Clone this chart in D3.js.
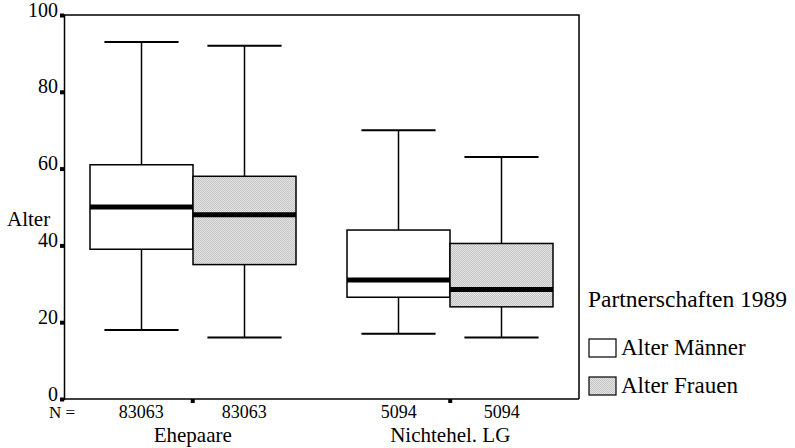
<!DOCTYPE html>
<html>
  <head>
    <meta charset="utf-8">
    <title>Partnerschaften 1989</title>
    <script src="https://d3js.org/d3.v7.min.js"></script>
    <style>
      body { margin: 0; background: #fff; }
      text { font-family: "Liberation Serif", "Times New Roman", serif; fill: #000; }
      .axis-y text { font-size: 20px; }
    </style>
  </head>
  <body>
    <svg width="795" height="448"></svg>
    <script>
      var groups = ["Ehepaare", "Nichtehel. LG"];
      var series = ["Alter Männer", "Alter Frauen"];
      var counts = [[83063, 83063], [5094, 5094]];
      // five-number summaries per group: [min, q1, median, q3, max]
      var maenner = [[18, 39, 50, 61, 93], [17, 26.5, 31, 44, 70]];
      var frauen = [[16, 35, 48, 58, 92], [16, 24, 28.5, 40.5, 63]];
      var yTicks = [0, 20, 40, 60, 80, 100];

      var margin = {top: 15, right: 216, bottom: 49, left: 64},
          width = 795 - margin.left - margin.right,
          height = 448 - margin.top - margin.bottom;

      var svg = d3.select("svg");

      // fine checker stipple for the grey boxes
      var pat = svg.append("defs").append("pattern")
          .attr("id", "stipple")
          .attr("width", 2).attr("height", 2)
          .attr("patternUnits", "userSpaceOnUse");
      pat.append("rect").attr("width", 2).attr("height", 2).attr("fill", "#e6e6e6");
      pat.append("rect").attr("width", 1).attr("height", 1).attr("fill", "#c2c2c2");
      pat.append("rect").attr("x", 1).attr("y", 1).attr("width", 1).attr("height", 1).attr("fill", "#c2c2c2");

      var g = svg.append("g")
          .attr("transform", "translate(" + margin.left + "," + margin.top + ")");

      var x = d3.scaleBand()
          .domain(groups)
          .range([0, width])
          .paddingInner(0.2)
          .paddingOuter(0.1);

      var xs = d3.scaleBand()
          .domain(series)
          .range([0, x.bandwidth()]);

      var y = d3.scaleLinear()
          .domain([0, 100])
          .range([height, 0]);

      var fills = ["#fff", "url(#stipple)"];

      var rows = [];
      groups.forEach(function(gr, i) {
        rows.push({group: gr, s: series[0], v: maenner[i], n: counts[i][0], fill: fills[0]});
        rows.push({group: gr, s: series[1], v: frauen[i], n: counts[i][1], fill: fills[1]});
      });

      // frame
      g.append("path")
          .attr("d", "M0,0H" + width + "V" + height)
          .attr("fill", "none")
          .attr("stroke", "#000")
          .attr("stroke-width", 1.5);

      var box = g.selectAll(".box")
          .data(rows)
          .enter().append("g")
          .attr("class", "box")
          .attr("transform", function(d) { return "translate(" + Math.round(x(d.group) + xs(d.s)) + ",0)"; });

      var bw = xs.bandwidth();
      var cap = bw * 0.36;

      box.append("line")
          .attr("x1", bw / 2).attr("x2", bw / 2)
          .attr("y1", function(d) { return y(d.v[4]); })
          .attr("y2", function(d) { return y(d.v[0]); })
          .attr("stroke", "#000").attr("stroke-width", 1.5);

      box.selectAll(".cap")
          .data(function(d) { return [d.v[0], d.v[4]]; })
          .enter().append("line")
          .attr("class", "cap")
          .attr("x1", bw / 2 - cap).attr("x2", bw / 2 + cap)
          .attr("y1", function(v) { return y(v); })
          .attr("y2", function(v) { return y(v); })
          .attr("stroke", "#000").attr("stroke-width", 2);

      box.append("rect")
          .attr("x", 0)
          .attr("width", bw)
          .attr("y", function(d) { return y(d.v[3]); })
          .attr("height", function(d) { return y(d.v[1]) - y(d.v[3]); })
          .attr("fill", function(d) { return d.fill; })
          .attr("stroke", "#000")
          .attr("stroke-width", 1.5);

      box.append("line")
          .attr("x1", 0).attr("x2", bw)
          .attr("y1", function(d) { return y(d.v[2]); })
          .attr("y2", function(d) { return y(d.v[2]); })
          .attr("stroke", "#000").attr("stroke-width", 5);

      // y axis
      var yAxis = g.append("g")
          .attr("class", "axis-y")
          .call(d3.axisLeft(y).tickValues(yTicks).tickSize(4).tickPadding(2));
      yAxis.select(".domain").attr("stroke-width", 1.5);
      yAxis.selectAll(".tick line").attr("stroke-width", 4);
      yAxis.selectAll(".tick text").attr("dy", "0.05em");

      // x axis (ticks at group centres)
      var xAxis = g.append("g")
          .attr("transform", "translate(0," + height + ")")
          .call(d3.axisBottom(x).tickSize(4).tickFormat(""));
      xAxis.select(".domain").attr("d", "M0,0H" + width).attr("stroke-width", 1.5);
      xAxis.selectAll(".tick line").attr("stroke-width", 4);

      // N labels
      g.selectAll(".nlab")
          .data(rows)
          .enter().append("text")
          .attr("class", "nlab")
          .attr("x", function(d) { return x(d.group) + xs(d.s) + bw / 2; })
          .attr("y", height + 19)
          .attr("text-anchor", "middle")
          .style("font-size", "18px")
          .text(function(d) { return d.n; });

      g.append("text")
          .attr("x", -15)
          .attr("y", height + 19)
          .style("font-size", "17px")
          .text("N =");

      g.selectAll(".glab")
          .data(groups)
          .enter().append("text")
          .attr("class", "glab")
          .attr("x", function(d) { return x(d) + x.bandwidth() / 2; })
          .attr("y", height + 43)
          .attr("text-anchor", "middle")
          .style("font-size", "21px")
          .text(function(d) { return d; });

      svg.append("text")
          .attr("x", 7)
          .attr("y", 226)
          .style("font-size", "21px")
          .text("Alter");

      // legend
      var leg = svg.append("g").attr("transform", "translate(588,0)");
      leg.append("text")
          .attr("x", 0).attr("y", 307)
          .style("font-size", "23.5px")
          .text("Partnerschaften 1989");

      var items = leg.selectAll(".item")
          .data(series)
          .enter().append("g")
          .attr("class", "item")
          .attr("transform", function(d, i) { return "translate(1," + (339 + i * 38) + ")"; });
      items.append("rect")
          .attr("width", 27).attr("height", 18)
          .attr("fill", function(d, i) { return fills[i]; })
          .attr("stroke", "#000").attr("stroke-width", 1.2);
      items.append("text")
          .attr("x", 32).attr("y", 16)
          .style("font-size", "23px")
          .text(function(d) { return d; });
    </script>
  </body>
</html>
